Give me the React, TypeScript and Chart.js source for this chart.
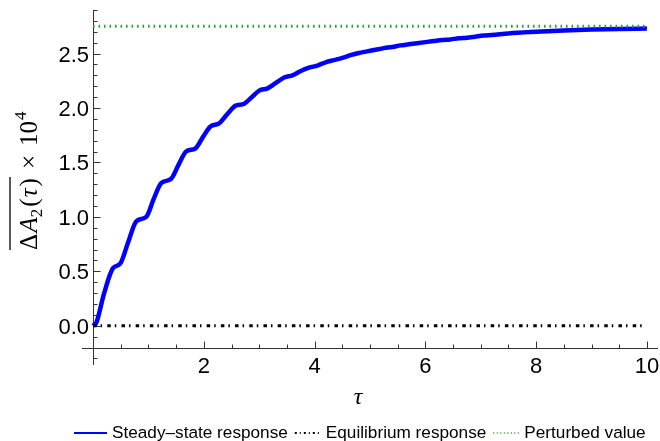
import React, { useEffect, useRef } from "react";
import { Chart, registerables } from "chart.js";

Chart.register(...registerables);

// ---- data ----
const tauValues = [
  0, 0.06, 0.2, 0.36, 0.49, 0.635, 0.78, 0.96, 1.095, 1.23, 1.41, 1.545, 1.68, 1.85,
  1.985, 2.12, 2.28, 2.425, 2.57, 2.73, 2.865, 3.0, 3.15, 3.3, 3.45, 3.6, 3.75, 3.9,
  4.05, 4.2, 4.35, 4.5, 4.65, 4.8, 4.95, 5.1, 5.25, 5.4, 5.55, 5.7, 5.85, 6.0, 6.15,
  6.3, 6.45, 6.6, 6.75, 6.9, 7.05, 7.2, 7.5, 8.0, 8.5, 9.0, 9.5, 10.0,
];
const steadyStateValues = [
  0, 0.03, 0.3, 0.53, 0.57, 0.77, 0.96, 1.0, 1.165, 1.31, 1.35, 1.48, 1.6, 1.63,
  1.735, 1.83, 1.86, 1.945, 2.02, 2.04, 2.1, 2.16, 2.18, 2.23, 2.28, 2.3, 2.34, 2.37,
  2.39, 2.42, 2.44, 2.46, 2.485, 2.505, 2.52, 2.535, 2.55, 2.56, 2.575, 2.585, 2.595,
  2.605, 2.615, 2.625, 2.63, 2.64, 2.645, 2.655, 2.665, 2.67, 2.685, 2.7, 2.712, 2.72,
  2.726, 2.73,
];
const equilibriumTau = [0, 10];
const equilibriumValues = [0, 0];
const perturbedTau = [0, 10];
const perturbedValues = [2.75, 2.75];

const xTickValues = [2, 4, 6, 8, 10];
const xTickLabels = ["2", "4", "6", "8", "10"];
const xMinorTickValues = [0.5, 1, 1.5, 2.5, 3, 3.5, 4.5, 5, 5.5, 6.5, 7, 7.5, 8.5, 9, 9.5];
const yTickValues = [0, 0.5, 1, 1.5, 2, 2.5];
const yTickLabels = ["0.0", "0.5", "1.0", "1.5", "2.0", "2.5"];
const yMinorTickValues = [
  -0.3, -0.2, -0.1, 0.1, 0.2, 0.3, 0.4, 0.6, 0.7, 0.8, 0.9, 1.1, 1.2, 1.3, 1.4, 1.6, 1.7,
  1.8, 1.9, 2.1, 2.2, 2.3, 2.4, 2.6, 2.7, 2.8, 2.9,
];
const seriesLabels = ["Steady\u2013state response", "Equilibrium response", "Perturbed value"];
const xAxisTitle = "\u03C4";

const BLUE = "#0000ff";
const BLACK = "#000000";
const GREEN = "#1fa01f";

const DASHDOT = [3.5, 4, 1.5, 5.2];
const DOTTED = [1.5, 4];

const axesPlugin = {
  id: "mmaAxes",
  beforeDatasetsDraw(chart: any) {
    const { ctx, scales, chartArea } = chart;
    const x = scales.x;
    const y = scales.y;
    const x0 = Math.round(x.getPixelForValue(0)) + 0.5;
    const yAx = Math.round(y.getPixelForValue(-0.2)) + 0.5;
    ctx.save();
    ctx.strokeStyle = "#333";
    ctx.lineWidth = 1;
    ctx.beginPath();
    ctx.moveTo(x0, chartArea.top);
    ctx.lineTo(x0, chartArea.bottom);
    ctx.moveTo(chartArea.left, yAx);
    ctx.lineTo(chartArea.right, yAx);
    yTickValues.forEach((v) => {
      const p = Math.round(y.getPixelForValue(v)) + 0.5;
      ctx.moveTo(x0, p);
      ctx.lineTo(x0 + 7, p);
    });
    yMinorTickValues.forEach((v) => {
      const p = Math.round(y.getPixelForValue(v)) + 0.5;
      ctx.moveTo(x0, p);
      ctx.lineTo(x0 + 4, p);
    });
    xTickValues.forEach((v) => {
      const p = Math.round(x.getPixelForValue(v)) + 0.5;
      ctx.moveTo(p, yAx);
      ctx.lineTo(p, yAx - 7);
    });
    xMinorTickValues.forEach((v) => {
      const p = Math.round(x.getPixelForValue(v)) + 0.5;
      ctx.moveTo(p, yAx);
      ctx.lineTo(p, yAx - 4);
    });
    ctx.stroke();
    ctx.restore();
  },
  afterDraw(chart: any) {
    const { ctx, scales } = chart;
    const x = scales.x;
    const y = scales.y;
    const x0 = x.getPixelForValue(0);
    const yAx = y.getPixelForValue(-0.2);
    ctx.save();
    ctx.fillStyle = "#000";
    ctx.font = '22px "Liberation Sans", Arial, sans-serif';
    ctx.textBaseline = "alphabetic";
    ctx.textAlign = "center";
    xTickValues.forEach((v, i) => {
      ctx.fillText(xTickLabels[i], x.getPixelForValue(v), yAx + 25);
    });
    ctx.textAlign = "right";
    yTickValues.forEach((v, i) => {
      ctx.fillText(yTickLabels[i], x0 - 4, y.getPixelForValue(v) + 8);
    });

    // x title
    ctx.textAlign = "center";
    ctx.font = 'italic 24px "Liberation Serif", "DejaVu Serif", serif';
    ctx.fillText(xAxisTitle, 358, 404);

    // y title (rotated)
    ctx.save();
    ctx.translate(37, 250);
    ctx.rotate(-Math.PI / 2);
    ctx.textAlign = "left";
    const big = '25px "Liberation Serif", "DejaVu Serif", serif';
    const bigI = 'italic 25px "Liberation Serif", "DejaVu Serif", serif';
    const small = '17px "Liberation Serif", "DejaVu Serif", serif';
    let cx = 0;
    const put = (t: string, f: string, dy = 0, extra = 0) => {
      ctx.font = f;
      ctx.fillText(t, cx, dy);
      cx += ctx.measureText(t).width + extra;
    };
    put("\u0394", big, 0, 1.5);
    put("A", bigI, 0, 0);
    put("2", small, 5, 2);
    put("(", big, 0, 1);
    put("\u03C4", bigI, 0, 2);
    put(")", big, 0, 0);
    const overEnd = cx + 1;
    cx += 9;
    put("\u00D7", big, 0, 9);
    put("10", big, 0, 1);
    put("4", small, -11);
    ctx.strokeStyle = "#000";
    ctx.lineWidth = 1.3;
    ctx.beginPath();
    ctx.moveTo(0, -27);
    ctx.lineTo(overEnd, -27);
    ctx.stroke();
    ctx.restore();

    // legend
    const ly = 433;
    const sample = (x1: number, x2: number, color: string, w: number, dash: number[]) => {
      ctx.save();
      ctx.strokeStyle = color;
      ctx.lineWidth = w;
      ctx.setLineDash(dash);
      ctx.beginPath();
      ctx.moveTo(x1, ly);
      ctx.lineTo(x2, ly);
      ctx.stroke();
      ctx.restore();
    };
    ctx.font = '17.2px "Liberation Sans", Arial, sans-serif';
    ctx.textAlign = "left";
    ctx.textBaseline = "middle";
    ctx.fillStyle = "#000";
    const styles = [
      { c: BLUE, w: 2, d: [] as number[], len: 33 },
      { c: BLACK, w: 2, d: [2, 3, 1, 3], len: 26 },
      { c: GREEN, w: 1.5, d: [1, 2.5], len: 26 },
    ];
    let lx = 74;
    seriesLabels.forEach((lab, i) => {
      const s = styles[i];
      sample(lx, lx + s.len, s.c, s.w, s.d);
      lx += s.len + 5;
      ctx.fillText(lab, lx, ly);
      lx += ctx.measureText(lab).width + 7;
    });
    ctx.restore();
  },
};

export default function App() {
  const ref = useRef<HTMLCanvasElement | null>(null);
  useEffect(() => {
    if (!ref.current) return;
    const chart = new Chart(ref.current, {
      type: "line",
      data: {
        datasets: [
          {
            label: seriesLabels[0],
            data: tauValues.map((t, i) => ({ x: t, y: steadyStateValues[i] })),
            borderColor: BLUE,
            borderWidth: 4.5,
            pointRadius: 0,
            cubicInterpolationMode: "monotone",
            fill: false,
            order: 2,
          },
          {
            label: seriesLabels[1],
            data: equilibriumTau.map((t, i) => ({ x: t, y: equilibriumValues[i] })),
            borderColor: BLACK,
            borderWidth: 3,
            borderDash: DASHDOT,
            borderCapStyle: "butt",
            pointRadius: 0,
            fill: false,
            order: 1,
          },
          {
            label: seriesLabels[2],
            data: perturbedTau.map((t, i) => ({ x: t, y: perturbedValues[i] })),
            borderColor: GREEN,
            borderWidth: 3,
            borderDash: DOTTED,
            pointRadius: 0,
            fill: false,
            order: 0,
          },
        ],
      },
      options: {
        animation: false,
        responsive: false,
        maintainAspectRatio: false,
        layout: { padding: { left: 82, right: 2, top: 10, bottom: 76 } },
        plugins: { legend: { display: false }, tooltip: { enabled: false } },
        scales: {
          x: { type: "linear", min: -0.2, max: 10.2, display: false },
          y: { type: "linear", min: -0.36, max: 2.9, display: false },
        },
      },
      plugins: [axesPlugin],
    });
    return () => chart.destroy();
  }, []);
  return (
    <div style={{ position: "absolute", left: 0, top: 0, width: 660, height: 441, background: "#fff" }}>
      <canvas ref={ref} width={660} height={441} style={{ display: "block" }} />
    </div>
  );
}
